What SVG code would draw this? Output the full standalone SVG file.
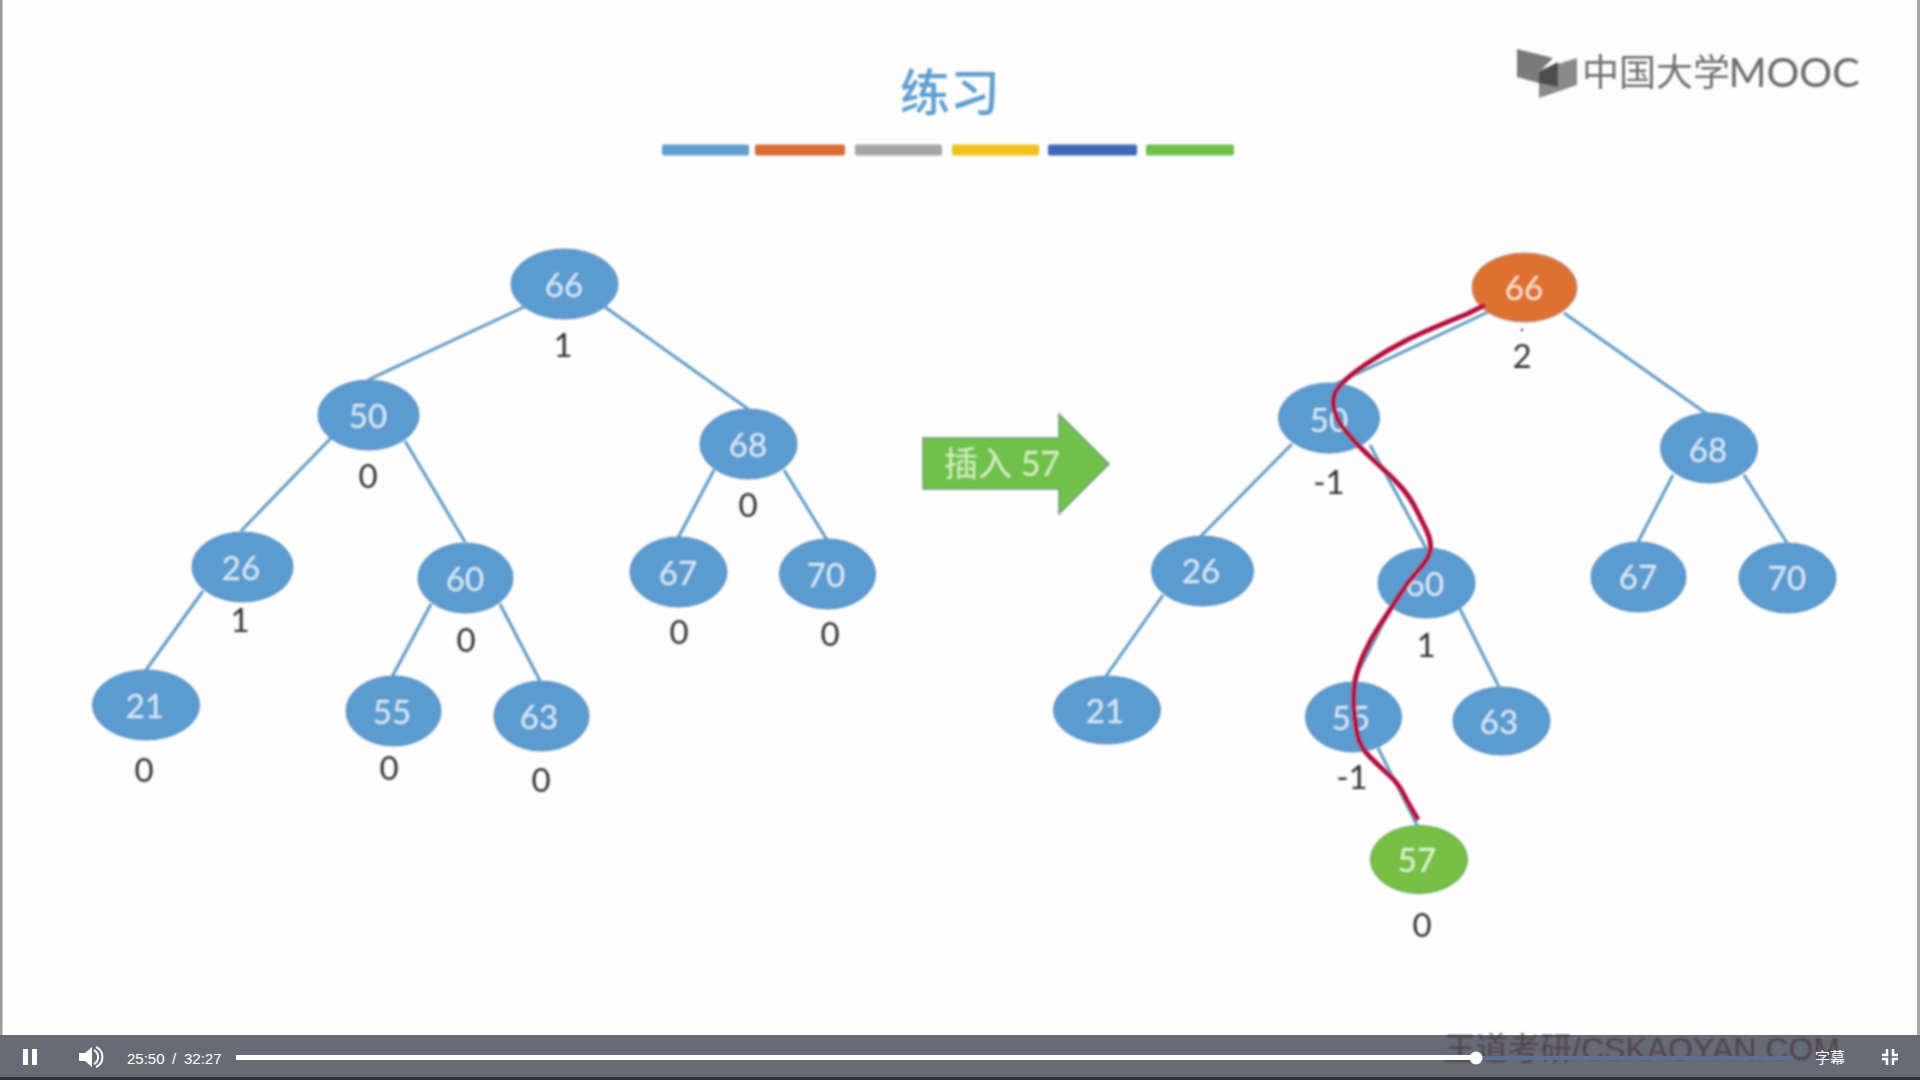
<svg xmlns="http://www.w3.org/2000/svg" width="1920" height="1080" viewBox="0 0 1920 1080">
<style>
text{font-family:"Lato","Noto Sans CJK SC",sans-serif;text-anchor:middle;dominant-baseline:central}
.n ellipse{fill:#5b9bd0;stroke:#5a8db8;stroke-width:1}
.n text{font-size:33px;fill:#d6e9f7}
.n text.b{fill:#333;transform:translateY(-1px)}
.e line{stroke:#619ac4;stroke-width:3}
.bar{height:11px;rx:2px}
.ui{font-family:"Liberation Sans","Noto Sans CJK SC",sans-serif;fill:#fff;font-size:15px;text-anchor:start}
</style>
<defs><filter id="soft" x="-2%" y="-2%" width="104%" height="104%"><feGaussianBlur stdDeviation="0.8"/></filter></defs>
<rect width="1920" height="1080" fill="#fdfdfe"/>
<rect x="0" y="0" width="2.5" height="1040" fill="#9a9a9a"/>
<rect x="1917" y="0" width="3" height="1040" fill="#a8a8a8"/>
<g id="slide" filter="url(#soft)">
<g id="title"><text x="950" y="92" font-size="50" font-weight="500" fill="#5f9fd0">练习</text></g>
<g id="color-bars">
<rect class="bar" x="662" y="144.500" fill="#5f9fd0" style="width:87px"/>
<rect class="bar" x="755" y="144.500" fill="#d96c30" style="width:90px"/>
<rect class="bar" x="855" y="144.500" fill="#a5a5a5" style="width:87px"/>
<rect class="bar" x="952" y="144.500" fill="#efc31e" style="width:87px"/>
<rect class="bar" x="1048" y="144.500" fill="#4168b8" style="width:89px"/>
<rect class="bar" x="1146" y="144.500" fill="#70c04a" style="width:88px"/>
</g>
<g id="logo">
<polygon points="1517,49 1553,58 1539,72 1539,83 1517,77" fill="#7a7a7a"/>
<polygon points="1539,70 1577,58 1577,85 1539,98" fill="#8a8a8a"/>
<polygon points="1539,72 1558,62 1558,87 1539,83" fill="#4d4d4d"/>
<text x="1656" y="71" font-size="37" fill="#707070">中国大学</text>
<text x="1794" y="71" font-size="41" fill="#6a6a6a" style="font-family:'Lato',sans-serif">MOOC</text>
</g>
<g id="connectors" class="e">
<line x1="524" y1="307" x2="368" y2="380"/>
<line x1="605" y1="307" x2="748" y2="409"/>
<line x1="331" y1="438" x2="241" y2="531"/>
<line x1="405" y1="441" x2="465" y2="542"/>
<line x1="203" y1="591" x2="146" y2="670"/>
<line x1="431" y1="604" x2="392" y2="677"/>
<line x1="500" y1="604" x2="540" y2="681"/>
<line x1="714" y1="470" x2="678" y2="538"/>
<line x1="784" y1="470" x2="827" y2="540"/>
<line x1="1488" y1="312" x2="1331" y2="386"/>
<line x1="1564" y1="313" x2="1707" y2="414"/>
<line x1="1292" y1="444" x2="1201" y2="536"/>
<line x1="1370" y1="445" x2="1426" y2="548"/>
<line x1="1163" y1="595" x2="1106" y2="676"/>
<line x1="1391" y1="608" x2="1353" y2="682"/>
<line x1="1460" y1="609" x2="1499" y2="687"/>
<line x1="1378" y1="748" x2="1417" y2="825"/>
<line x1="1673" y1="475" x2="1638" y2="542"/>
<line x1="1744" y1="475" x2="1787" y2="543"/>
</g>
<g id="L66" class="n"><ellipse cx="564.500" cy="284" rx="53.500" ry="35"/><text x="564" y="284">66</text><text class="b" x="563" y="345">1</text></g>
<g id="L50" class="n"><ellipse cx="368.500" cy="415" rx="50.500" ry="35"/><text x="368" y="415">50</text><text class="b" x="368" y="476">0</text></g>
<g id="L68" class="n"><ellipse cx="748.500" cy="444" rx="48.500" ry="35"/><text x="748" y="444">68</text><text class="b" x="748" y="505">0</text></g>
<g id="L26" class="n"><ellipse cx="242.500" cy="567" rx="50.500" ry="35"/><text x="241" y="567">26</text><text class="b" x="240" y="620">1</text></g>
<g id="L60" class="n"><ellipse cx="465.500" cy="578" rx="47.500" ry="35"/><text x="465" y="578">60</text><text class="b" x="466" y="640">0</text></g>
<g id="L67" class="n"><ellipse cx="678.500" cy="572" rx="48.500" ry="35"/><text x="678" y="572">67</text><text class="b" x="679" y="632">0</text></g>
<g id="L70" class="n"><ellipse cx="827.500" cy="574" rx="48" ry="35"/><text x="826" y="574">70</text><text class="b" x="830" y="634">0</text></g>
<g id="L21" class="n"><ellipse cx="146" cy="705" rx="53.500" ry="35"/><text x="145" y="705">21</text><text class="b" x="144" y="770">0</text></g>
<g id="L55" class="n"><ellipse cx="393.500" cy="711" rx="47.500" ry="35"/><text x="392" y="711">55</text><text class="b" x="389" y="768">0</text></g>
<g id="L63" class="n"><ellipse cx="541.500" cy="716" rx="47.500" ry="35"/><text x="539" y="716">63</text><text class="b" x="541" y="780">0</text></g>
<g id="R66" class="n"><ellipse cx="1524.500" cy="287.500" rx="52.500" ry="34.500" style="fill:#dd7132;stroke:#a58570"/><text x="1524" y="287" style="fill:#fbdcc4">66</text><circle cx="1522" cy="330" r="1.200" fill="#333"/><text class="b" x="1522" y="356">2</text></g>
<g id="R50" class="n"><ellipse cx="1329" cy="418" rx="50.500" ry="35"/><text x="1329" y="419">50</text><text class="b" x="1329" y="482">-1</text></g>
<g id="R68" class="n"><ellipse cx="1709" cy="448" rx="48.500" ry="35"/><text x="1708" y="449">68</text></g>
<g id="R26" class="n"><ellipse cx="1202.500" cy="571" rx="51" ry="35"/><text x="1201" y="570">26</text></g>
<g id="R60" class="n"><ellipse cx="1426.500" cy="583" rx="48.500" ry="35"/><text x="1425" y="583">60</text><text class="b" x="1426" y="645">1</text></g>
<g id="R67" class="n"><ellipse cx="1638.500" cy="577" rx="47.500" ry="35"/><text x="1638" y="576">67</text></g>
<g id="R70" class="n"><ellipse cx="1787.500" cy="578" rx="48.500" ry="35"/><text x="1787" y="577">70</text></g>
<g id="R21" class="n"><ellipse cx="1107" cy="710" rx="53.500" ry="34"/><text x="1105" y="710">21</text></g>
<g id="R55" class="n"><ellipse cx="1353.500" cy="717" rx="48" ry="35"/><text x="1351" y="717">55</text><text class="b" x="1352" y="777">-1</text></g>
<g id="R63" class="n"><ellipse cx="1501.500" cy="721" rx="48.500" ry="34"/><text x="1499" y="721">63</text></g>
<g id="R57" class="n"><ellipse cx="1419" cy="859.500" rx="48.500" ry="34" style="fill:#74c044;stroke:#6a9d5c"/><text x="1417" y="859" style="fill:#dff4cd">57</text><text class="b" x="1422" y="925">0</text></g>
<g id="insert-arrow">
<polygon points="923,438 1059,438 1059,414 1109,464 1059,514 1059,489 923,489" fill="#70c04a" stroke="#6f9d78" stroke-width="1.500"/>
<text x="1002" y="462" font-size="34" fill="#d2efba">插入 57</text>
</g>
<path id="red-ink" d="M1483 306L1467 314Q1427 330 1407 340Q1387 350 1367 363.500Q1347 377 1339.500 386Q1332 395 1333.500 406Q1335 417 1342.500 427Q1350 437 1360 447Q1370 457 1381.500 467.500Q1393 478 1401.500 487.500Q1410 497 1416.500 510Q1423 523 1427 531.500Q1431 540 1430.500 548.500Q1430 557 1418.500 570Q1407 583 1398.500 596.500Q1390 610 1380 625Q1370 640 1363.500 655Q1357 670 1355 681.500Q1353 693 1354 708Q1355 723 1357.500 735Q1360 747 1370 757Q1380 767 1389 775Q1398 783 1403 793Q1408 803 1417 818" fill="none" stroke="#b2103c" stroke-width="5" stroke-linecap="round"/>
</g>
<g id="player">
<rect y="1035" width="1920" height="42" fill="#666c75"/>
<rect y="1077" width="1920" height="3" fill="#2f3238"/>
<text x="1642" y="1049" font-size="32" fill="#4f3a44" opacity=".85" filter="url(#soft)" style="font-family:'Liberation Sans','Noto Sans CJK SC',sans-serif">王道考研/CSKAOYAN.COM</text>
<rect x="23" y="1049" width="5" height="16" fill="#fff"/><rect x="32" y="1049" width="5" height="16" fill="#fff"/>
<path d="M79 1053h6l7-6v20l-7-6h-6z" fill="#fff"/>
<path d="M94 1050a8 8 0 0 1 0 14M96 1047a11 11 0 0 1 0 20" fill="none" stroke="#fff" stroke-width="2"/>
<text class="ui" x="127" y="1058">25:50</text>
<text class="ui" x="172" y="1058">/</text>
<text class="ui" x="184" y="1058">32:27</text>
<rect x="1476" y="1056" width="317" height="4" fill="#5e6f8f"/>
<rect x="236" y="1055" width="1240" height="5" fill="#fff"/>
<circle cx="1476" cy="1058" r="6.500" fill="#fff"/>
<text class="ui" x="1815" y="1057">字幕</text>
<path d="M1887 1049v6h-5M1893 1049v6h5M1887 1065v-6h-5M1893 1065v-6h5" fill="none" stroke="#fff" stroke-width="2.500"/>
</g>
</svg>
